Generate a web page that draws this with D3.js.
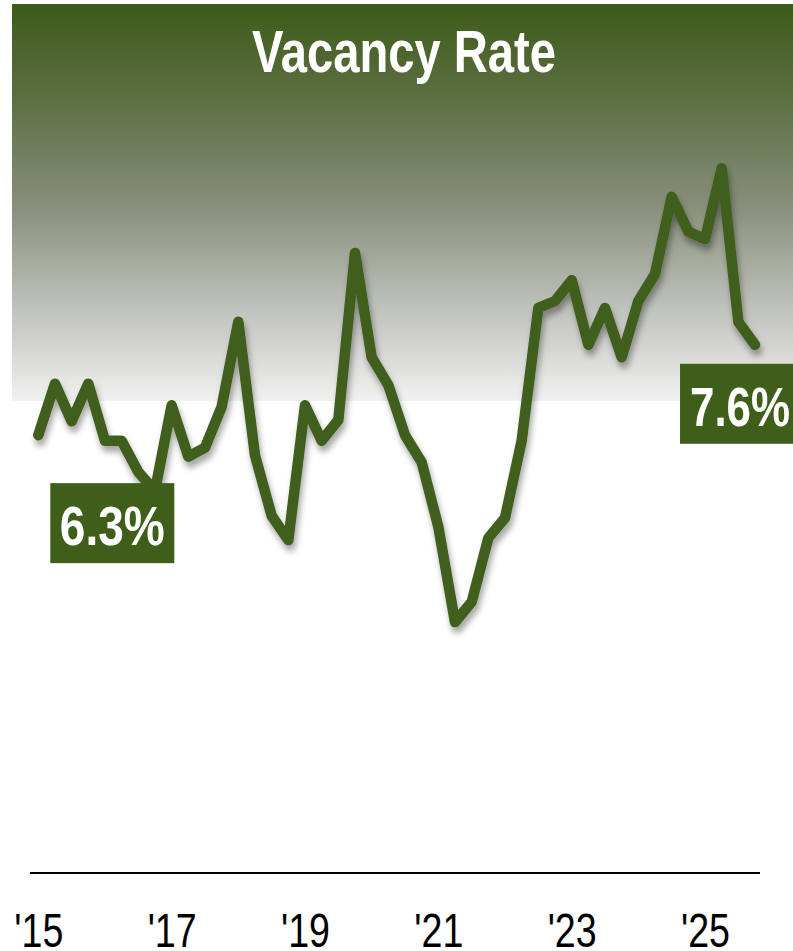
<!DOCTYPE html>
<html>
<head>
<meta charset="utf-8">
<script src="https://cdn.jsdelivr.net/npm/d3@7/dist/d3.min.js"></script>
<style>
  html, body { margin: 0; padding: 0; background: #fff; }
  svg { display: block; }
  .narrow { font-family: "Liberation Sans Narrow", "Arial Narrow", "Liberation Sans", Arial, sans-serif; }
</style>
</head>
<body>
<svg id="chart" width="793" height="951"></svg>
<script>
// Quarterly vacancy rate, 2015 Q1 – 2025 Q4 (percent)
const periods = d3.range(44).map(i => 2015 + i / 4);
const vacancy = [
  6.30, 7.04, 6.50, 7.04, 6.22, 6.22, 5.77, 5.50,
  6.73, 5.99, 6.12, 6.71, 7.93, 6.01, 5.14, 4.79,
  6.73, 6.22, 6.52, 8.92, 7.42, 7.02, 6.30, 5.91,
  4.98, 3.61, 3.90, 4.82, 5.11, 6.22, 8.13, 8.23,
  8.53, 7.60, 8.13, 7.42, 8.23, 8.62, 9.73, 9.23,
  9.12, 10.14, 7.93, 7.60
];
const tickYears = [2015, 2017, 2019, 2021, 2023, 2025];
const tickLabels = ["'15", "'17", "'19", "'21", "'23", "'25"];
const title = "Vacancy Rate";

const green = "#3f5e1a";
const svg = d3.select("#chart");
const W = 793;

const x = d3.scaleLinear().domain([2015, 2026]).range([38.3, 771.7]);
const y = d3.scaleLinear().domain([0, 12]).range([873, 39]);

const defs = svg.append("defs");
const grad = defs.append("linearGradient")
  .attr("id", "bgGrad").attr("x1", 0).attr("y1", 0).attr("x2", 0).attr("y2", 1);
[[0, "#3c5b17"], [0.25, "#5f7045"], [0.5, "#858e79"], [0.75, "#bcbeb8"], [1, "#f1f1f1"]]
  .forEach(([o, c]) => grad.append("stop").attr("offset", o).attr("stop-color", c));

const shadow = defs.append("filter").attr("id", "lineShadow")
  .attr("x", "-10%").attr("y", "-10%").attr("width", "120%").attr("height", "130%");
shadow.append("feDropShadow")
  .attr("dx", 2).attr("dy", 6).attr("stdDeviation", 3)
  .attr("flood-color", "#000").attr("flood-opacity", 0.35);

// header band fading from green to white
svg.append("rect")
  .attr("x", 12).attr("y", 4).attr("width", W - 12).attr("height", 397)
  .attr("fill", "url(#bgGrad)");

// fit a text element to a given width while keeping its glyphs
function fitWidth(sel, w) {
  sel.each(function () {
    const len = this.getComputedTextLength();
    if (Math.abs(len - w) > 2) {
      d3.select(this).attr("textLength", w).attr("lengthAdjust", "spacingAndGlyphs");
    }
  });
}

svg.append("text")
  .attr("class", "narrow")
  .attr("x", 404).attr("y", 72)
  .attr("text-anchor", "middle")
  .attr("font-size", 60).attr("font-weight", "bold")
  .attr("fill", "#fff")
  .text(title)
  .call(fitWidth, 304);

// baseline
svg.append("line")
  .attr("x1", 30).attr("x2", 760)
  .attr("y1", y(0)).attr("y2", y(0))
  .attr("stroke", "#000").attr("stroke-width", 2);

// year axis
const axis = d3.axisBottom(x)
  .tickValues(tickYears)
  .tickFormat((d, i) => tickLabels[i])
  .tickSize(0)
  .tickPadding(40);
const gx = svg.append("g").attr("transform", `translate(0,${y(0)})`).call(axis);
gx.select(".domain").remove();
gx.selectAll("text")
  .attr("class", "narrow")
  .attr("font-family", null)
  .attr("font-size", 48)
  .attr("fill", "#000")
  .call(fitWidth, 49);

// vacancy line
const line = d3.line()
  .x((d, i) => x(periods[i]))
  .y(d => y(d));
svg.append("path")
  .datum(vacancy)
  .attr("d", line)
  .attr("fill", "none")
  .attr("stroke", green)
  .attr("stroke-width", 10.5)
  .attr("stroke-linejoin", "round")
  .attr("stroke-linecap", "round")
  .attr("filter", "url(#lineShadow)");

// value callouts for the first and latest quarter
const first = 0, last = vacancy.length - 1;
const callouts = [
  { i: first, cx: x(periods[first]) + 74, top: y(vacancy[first]) + 48, w: 124, tw: 105 },
  { i: last, cx: x(periods[last]) - 15, top: y(vacancy[last]) + 19, w: 120, tw: 100 }
];
callouts.forEach(c => {
  svg.append("rect")
    .attr("x", c.cx - c.w / 2).attr("y", c.top)
    .attr("width", c.w).attr("height", 80)
    .attr("fill", green);
  svg.append("text")
    .attr("class", "narrow")
    .attr("x", c.cx).attr("y", c.top + 62)
    .attr("text-anchor", "middle")
    .attr("font-size", 56).attr("font-weight", "bold")
    .attr("fill", "#fff")
    .text(d3.format(".1f")(vacancy[c.i]) + "%")
    .call(fitWidth, c.tw);
});
</script>
</body>
</html>
